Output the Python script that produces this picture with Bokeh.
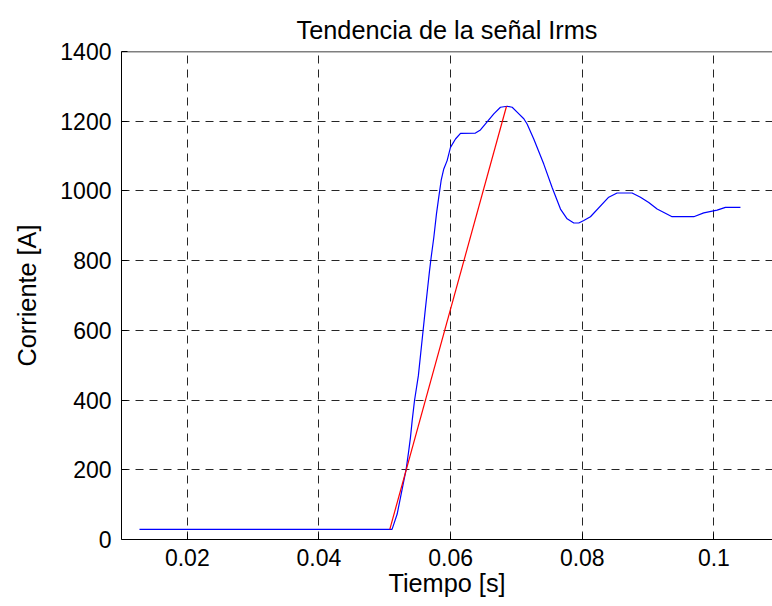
from bokeh.plotting import figure
from bokeh.models import Range1d, FixedTicker, Span
from bokeh.embed import file_html
from bokeh.resources import INLINE

# RMS current trend (time in s, current in A)
t_irms = [0.01273, 0.0511, 0.05137, 0.05188, 0.05228, 0.05279, 0.05325, 0.05364,
          0.0539, 0.05416, 0.05451, 0.0551, 0.0556, 0.0561, 0.0565, 0.05679,
          0.05704, 0.05745, 0.05785, 0.0582, 0.05856, 0.05896, 0.05947, 0.05998,
          0.06074, 0.0615, 0.06377, 0.06453, 0.06656, 0.06757, 0.06859, 0.06935,
          0.0701, 0.07112, 0.07162, 0.07263, 0.07415, 0.07542, 0.07669, 0.0777,
          0.07871, 0.07947, 0.08023, 0.08124, 0.08402, 0.08529, 0.08757, 0.08884,
          0.0901, 0.09137, 0.09365, 0.09694, 0.09846, 0.10049, 0.10175, 0.10403]
irms = [29, 29, 44, 73, 111, 159, 202, 255,
        293, 341, 398, 470, 560, 650, 720, 770,
        809, 867, 934, 982, 1030, 1063, 1087, 1125,
        1149, 1165, 1166, 1175, 1221, 1240, 1243, 1240,
        1226, 1207, 1192, 1149, 1077, 1010, 948, 920,
        908, 908, 915, 926, 982, 994, 994, 982,
        967, 948, 926, 926, 937, 945, 953, 953]

# Straight rise from start of the transient to the peak
t_rise = [0.05076, 0.06849]
i_rise = [29, 1243]

x_ticks = [0.02, 0.04, 0.06, 0.08, 0.1]
x_tick_labels = ["0.02", "0.04", "0.06", "0.08", "0.1"]
y_ticks = [0, 200, 400, 600, 800, 1000, 1200, 1400]

FONT = "Liberation Sans"
FS = "23px"
FS_LABEL = "25.3px"

p = figure(width=772, height=606, output_backend="svg", toolbar_location=None,
           x_range=Range1d(0.01, 0.1089), y_range=Range1d(0, 1400),
           min_border_left=121, min_border_top=51, min_border_right=0,
           min_border_bottom=67, title="Tendencia de la señal Irms")

p.outline_line_color = None
p.background_fill_color = "white"
p.border_fill_color = "white"

p.title.text_font = FONT
p.title.text_font_size = FS_LABEL
p.title.text_font_style = "normal"
p.title.text_color = "black"
p.title.align = "center"
p.title.vertical_align = "middle"
p.title.offset = 3.5
p.title.standoff = 14

p.xaxis.ticker = FixedTicker(ticks=x_ticks)
p.xaxis.major_label_overrides = {v: s for v, s in zip(x_ticks, x_tick_labels)}
p.yaxis.ticker = FixedTicker(ticks=y_ticks)

p.xaxis.axis_label = "Tiempo [s]"
p.yaxis.axis_label = "Corriente [A]"

for ax in (p.xaxis, p.yaxis):
    ax.axis_line_color = "black"
    ax.axis_line_width = 1
    ax.major_tick_in = 6
    ax.major_tick_out = 0
    ax.minor_tick_in = 0
    ax.minor_tick_out = 0
    ax.major_tick_line_color = "black"
    ax.major_label_text_font = FONT
    ax.major_label_text_font_size = FS
    ax.major_label_text_color = "black"
    ax.axis_label_text_font = FONT
    ax.axis_label_text_font_size = FS_LABEL
    ax.axis_label_text_font_style = "normal"
    ax.axis_label_text_color = "black"

p.xaxis.major_label_standoff = 9
p.xaxis.axis_label_standoff = 0
p.yaxis.major_label_standoff = 10
p.yaxis.axis_label_standoff = 16

for g in (p.xgrid, p.ygrid):
    g.grid_line_color = "black"
    g.grid_line_alpha = 0.85
    g.grid_line_dash = "8 6"
    g.grid_line_width = 1

p.xgrid.ticker = FixedTicker(ticks=x_ticks)
p.ygrid.ticker = FixedTicker(ticks=y_ticks)

# solid top border of the axes box
p.add_layout(Span(location=1400, dimension="width", line_color="black", line_width=1.5))

p.line(t_irms, irms, line_color="#0000ff", line_width=1.2)
p.line(t_rise, i_rise, line_color="#ff0000", line_width=1.2)

open("out.html", "w").write(file_html(p, INLINE))
